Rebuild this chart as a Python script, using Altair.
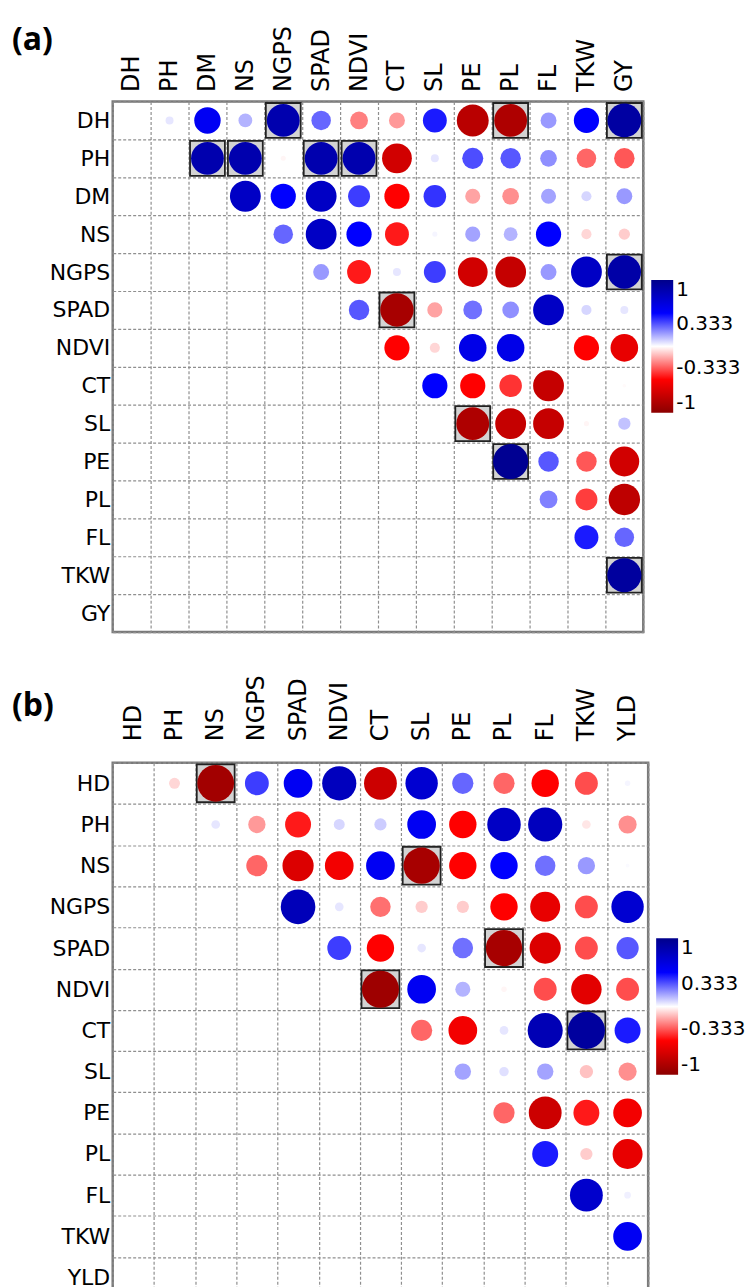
import altair as alt
import pandas as pd

# ---------------- Panel (a) ----------------
vars_a = ["DH", "PH", "DM", "NS", "NGPS", "SPAD", "NDVI", "CT", "SL", "PE", "PL", "FL", "TKW", "GY"]
# upper-triangle correlations: row i holds values for columns i+1 .. n-1
rows_a = [
    [0.05, 0.55, 0.15, 0.85, 0.30, -0.25, -0.20, 0.45, -0.80, -0.85, 0.20, 0.50, 0.90],  # DH
    [0.85, 0.85, -0.02, 0.85, 0.85, -0.70, 0.05, 0.35, 0.33, 0.22, -0.30, -0.33],       # PH
    [0.75, 0.50, 0.75, 0.38, -0.50, 0.40, -0.18, -0.22, 0.18, 0.08, 0.20],              # DM
    [0.30, 0.75, 0.50, -0.45, 0.02, 0.18, 0.15, 0.50, -0.08, -0.10],                    # NS
    [0.20, -0.45, 0.05, 0.38, -0.70, -0.75, 0.20, 0.75, 0.88],                          # NGPS
    [0.33, -0.88, -0.18, 0.28, 0.22, 0.75, 0.08, 0.05],                                 # SPAD
    [-0.50, -0.08, 0.60, 0.60, 0.00, -0.50, -0.60],                                     # NDVI
    [0.50, -0.50, -0.40, -0.75, 0.00, -0.01],                                           # CT
    [-0.85, -0.75, -0.75, -0.02, 0.12],                                                 # SL
    [0.97, 0.33, -0.33, -0.70],                                                         # PE
    [0.25, -0.38, -0.78],                                                               # PL
    [0.45, 0.30],                                                                       # FL
    [0.92],                                                                             # TKW
    [],                                                                                 # GY
]
hl_a = [("DH", "NGPS"), ("DH", "PL"), ("DH", "GY"), ("PH", "DM"), ("PH", "NS"),
        ("PH", "SPAD"), ("PH", "NDVI"), ("NGPS", "GY"), ("SPAD", "CT"), ("SL", "PE"),
        ("PE", "PL"), ("TKW", "GY")]

# ---------------- Panel (b) ----------------
vars_b = ["HD", "PH", "NS", "NGPS", "SPAD", "NDVI", "CT", "SL", "PE", "PL", "FL", "TKW", "YLD"]
rows_b = [
    [-0.08, -0.90, 0.38, 0.55, 0.78, -0.72, 0.70, 0.30, -0.30, -0.50, -0.35, 0.02],  # HD
    [0.05, -0.20, -0.45, 0.08, 0.10, 0.55, -0.50, 0.75, 0.78, -0.05, -0.22],          # PH
    [-0.30, -0.65, -0.55, 0.55, -0.88, -0.50, 0.50, 0.28, 0.20, 0.01],                # NS
    [0.80, 0.05, -0.28, -0.10, -0.10, -0.50, -0.60, -0.35, 0.70],                     # NGPS
    [0.38, -0.50, 0.05, 0.28, -0.88, -0.65, -0.35, 0.33],                             # SPAD
    [-0.92, 0.55, 0.15, -0.02, -0.35, -0.62, -0.35],                                  # NDVI
    [-0.30, -0.55, 0.05, 0.82, 0.92, 0.45],                                           # CT
    [0.18, 0.06, 0.18, -0.12, -0.22],                                                 # SL
    [-0.30, -0.72, -0.45, -0.55],                                                     # PE
    [0.45, -0.10, -0.60],                                                             # PL
    [0.72, 0.03],                                                                     # FL
    [0.55],                                                                           # TKW
    [],                                                                               # YLD
]
hl_b = [("HD", "NS"), ("NS", "SL"), ("SPAD", "PL"), ("NDVI", "CT"), ("CT", "TKW")]

legend_values = [-1, -0.333, 0.333, 1]
color_stops = [-1, -0.5, 0, 0.5, 1]
color_range = ["#8B0000", "#FF0000", "#FFFFFF", "#0000FF", "#00008B"]

FONT = "DejaVu Sans"
ROW_LBL = 22
COL_LBL = 24


def build_df(vars_, rows, hl):
    recs = []
    hls = set(hl)
    for i, row in enumerate(rows):
        for k, v in enumerate(row):
            j = i + 1 + k
            recs.append({"row": vars_[i], "col": vars_[j], "r": v, "absr": abs(v),
                         "hl": (vars_[i], vars_[j]) in hls})
    return pd.DataFrame(recs)


def panel(vars_, rows, hl, tag, cell, lab_pad_x, leg_y, leg_len, tag_y):
    df = build_df(vars_, rows, hl)
    n = len(vars_)
    side = n * cell
    maxd = cell * 0.94
    sq = cell * 0.92

    x = alt.X("col:N", sort=vars_,
              scale=alt.Scale(domain=vars_, paddingInner=0, paddingOuter=0),
              axis=alt.Axis(orient="top", title=None, labelAngle=270, labelAlign="left",
                            labelBaseline="middle", labelFontSize=COL_LBL, labelFont=FONT,
                            labelColor="black", labelPadding=lab_pad_x, ticks=False,
                            domain=False, grid=True, tickBand="extent", gridDash=[3, 2],
                            gridColor="#8f8f8f", gridWidth=1.2))
    y = alt.Y("row:N", sort=vars_,
              scale=alt.Scale(domain=vars_, paddingInner=0, paddingOuter=0),
              axis=alt.Axis(orient="left", title=None, labelFontSize=ROW_LBL, labelFont=FONT,
                            labelColor="black", labelPadding=3, ticks=False, domain=False,
                            grid=True, tickBand="extent", gridDash=[3, 2],
                            gridColor="#8f8f8f", gridWidth=1.2))

    base = alt.Chart(df)
    squares = base.transform_filter("datum.hl").mark_square(
        size=sq * sq, color="#D3D3D3", stroke="#222222", strokeWidth=1.8, opacity=1
    ).encode(x=x, y=y)
    circles = base.mark_circle(opacity=1).encode(
        x=x, y=y,
        size=alt.Size("absr:Q", scale=alt.Scale(domain=[0, 1], range=[0, maxd * maxd]),
                      legend=None),
        color=alt.Color("r:Q",
                        scale=alt.Scale(domain=color_stops, range=color_range,
                                        interpolate="rgb"),
                        legend=alt.Legend(orient="none", legendX=side + 8, legendY=leg_y,
                                          direction="vertical", gradientLength=leg_len,
                                          gradientThickness=22, gradientStrokeWidth=0,
                                          values=legend_values, title=None,
                                          labelExpr="replace(format(datum.value, '.3~f'), '\u2212', '-')",
                                          labelFontSize=20, labelFont=FONT,
                                          labelColor="black", labelOffset=3)),
    )
    tag_df = pd.DataFrame({"t": [tag]})
    tag_txt = alt.Chart(tag_df).mark_text(
        font="Open Sans", fontSize=32, fontWeight="bold", align="left",
        baseline="middle", color="black"
    ).encode(text="t:N", x=alt.value(-101), y=alt.value(tag_y))

    return alt.layer(squares, circles, tag_txt).properties(width=side, height=side)


pa = panel(vars_a, rows_a, hl_a, "(a)", 38, 10, 179, 133, -62)
pb = panel(vars_b, rows_b, hl_b, "(b)", 41.3, 22, 176, 137, -57)

chart = alt.vconcat(pa, pb, spacing=39).resolve_scale(
    color="independent", size="independent", x="independent", y="independent"
).properties(
    padding={"left": 2, "top": 12, "right": 0, "bottom": 0}
).configure_view(stroke="#7a7a7a", strokeWidth=2.5)

chart.save("out.html", embed_options={"renderer": "svg", "actions": False})
